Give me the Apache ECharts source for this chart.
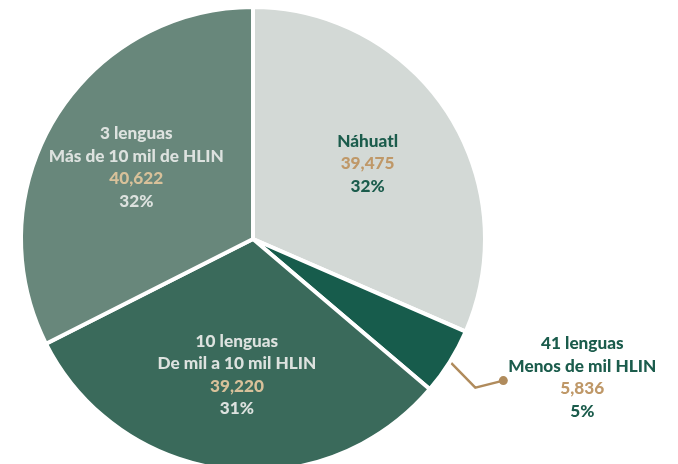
<!DOCTYPE html>
<html>
<head>
<meta charset="utf-8">
<script src="https://cdn.jsdelivr.net/npm/echarts@6/dist/echarts.min.js"></script>
<style>
  html, body { margin: 0; padding: 0; background: #fff; }
  #chart { width: 678px; height: 464px; }
</style>
</head>
<body>
<div id="chart"></div>
<script>
const categories = ['Náhuatl', '41 lenguas', '10 lenguas', '3 lenguas'];
const subtitles = ['', 'Menos de mil HLIN', 'De mil a 10 mil HLIN', 'Más de 10 mil de HLIN'];
const hlinValues = [39475, 5836, 39220, 40622];
const sliceColors = ['#d3d9d6', '#175c4c', '#3a6a5b', '#68877b'];
const darkText = [true, true, false, false]; // texto verde oscuro vs. claro

const chart = echarts.init(document.getElementById('chart'));

const fmt = n => n.toLocaleString('en-US');

function labelText(p) {
  const i = p.dataIndex;
  const s = darkText[i] ? 'd' : 'l';
  const lines = ['{t' + s + '|' + categories[i] + '}'];
  if (subtitles[i]) lines.push('{t' + s + '|' + subtitles[i] + '}');
  lines.push('{v' + s + '|' + fmt(hlinValues[i]) + '}');
  lines.push('{p' + s + '|' + Math.round(p.percent) + '%}');
  return lines.join('\n');
}

const baseFont = { fontFamily: 'Lato', fontWeight: 900, fontSize: 17.2, lineHeight: 22.5, align: 'center' };
const rich = {
  tl: { ...baseFont, color: '#dde2df' },
  vl: { ...baseFont, color: '#d8c19a' },
  pl: { ...baseFont, color: '#dde2df' },
  td: { ...baseFont, color: '#1b5c4c' },
  vd: { ...baseFont, color: '#bf9868' },
  pd: { ...baseFont, color: '#1b5c4c' },
};

const center = [253, 239];
const lineLen = 30, lineLen2 = 28;

// serie principal: sectores + línea guía con punto
const mainData = categories.map((c, i) => {
  const item = { name: c, value: hlinValues[i], itemStyle: { color: sliceColors[i] } };
  if (i === 1) {
    item.label = {
      show: true,
      position: 'outside',
      formatter: '{dot|}',
      distanceToLabelLine: -4.5,
      rich: { dot: { width: 9, height: 9, borderRadius: 4.5, backgroundColor: '#b08b5c' } },
    };
    item.labelLine = { show: true, length: lineLen, length2: lineLen2, lineStyle: { color: '#b08b5c', width: 2.5 } };
  }
  return item;
});

// serie superpuesta transparente: solo textos
const labelData = categories.map((c, i) => {
  const item = { name: c, value: hlinValues[i] };
  if (i === 1) {
    item.label = { position: 'outside', distanceToLabelLine: 5 };
    item.labelLine = { show: false, length: lineLen, length2: lineLen2 };
  }
  return item;
});

chart.setOption({
  animation: false,
  series: [
    {
      type: 'pie',
      center: center,
      radius: 232,
      startAngle: 90,
      clockwise: true,
      avoidLabelOverlap: false,
      silent: true,
      itemStyle: { borderColor: '#fff', borderWidth: 4 },
      label: { show: false },
      labelLine: { show: false },
      // codo de la línea guía un poco más abajo, como en el original
      labelLayout: p => {
        const pts = p.labelLinePoints;
        if (!pts) return {};
        return {
          dy: 3,
          labelLinePoints: [pts[0], [pts[1][0], pts[1][1] + 10], [pts[2][0], pts[2][1] + 3]],
        };
      },
      data: mainData,
    },
    {
      type: 'pie',
      center: center,
      radius: [36, 232],
      startAngle: 90,
      clockwise: true,
      avoidLabelOverlap: false,
      silent: true,
      itemStyle: { color: 'rgba(0,0,0,0)', borderWidth: 0 },
      label: { show: true, position: 'inside', formatter: labelText, rich: rich },
      labelLine: { show: false },
      data: labelData,
    },
  ],
});
</script>
</body>
</html>
